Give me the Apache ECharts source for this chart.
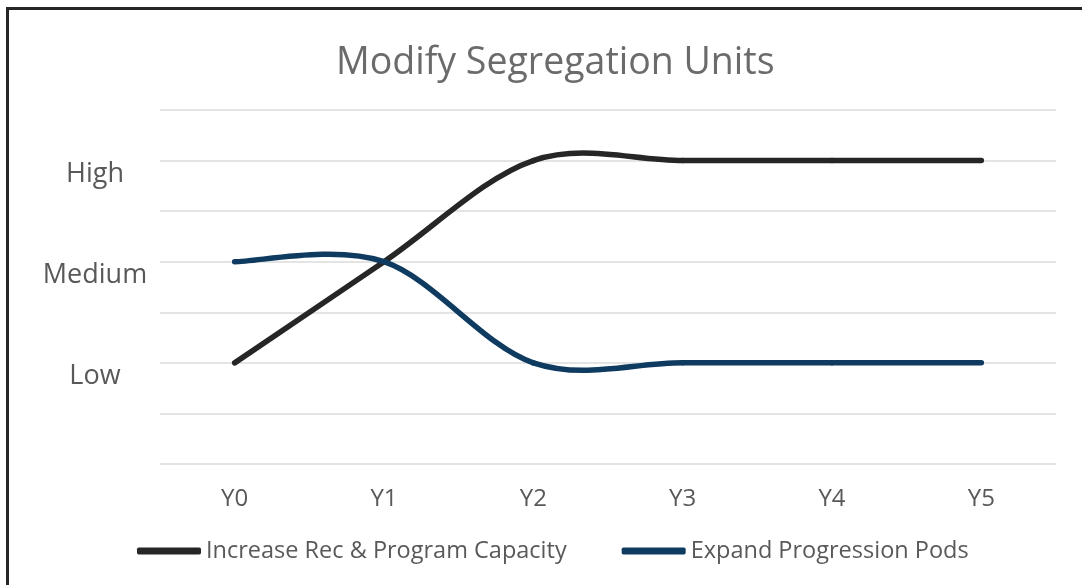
<!DOCTYPE html>
<html>
<head>
<meta charset="utf-8">
<title>Modify Segregation Units</title>
<script src="https://cdn.jsdelivr.net/npm/echarts@6/dist/echarts.min.js"></script>
<style>
    html, body { margin: 0; padding: 0; background: #fff; overflow: hidden; }
    #frame {
        position: absolute; left: 6px; top: 7px; width: 1100px; height: 600px;
        border: 3px solid #262626; box-sizing: border-box;
    }
    #chart { position: absolute; left: 0; top: 0; width: 1082px; height: 585px; }
</style>
</head>
<body>
<div id="frame"></div>
<div id="chart"></div>
<script>
// 横轴年份
var years = ['Y0', 'Y1', 'Y2', 'Y3', 'Y4', 'Y5'];
// 等级刻度 1=Low 2=Medium 3=High
var levelNames = { 1: 'Low', 2: 'Medium', 3: 'High' };
var seriesNames = ['Increase Rec & Program Capacity', 'Expand Progression Pods'];
var recCapacity = [1, 2, 3, 3, 3, 3];
var progressionPods = [2, 2, 1, 1, 1, 1];

var textColor = '#595959';
var font = '"Open Sans", "Noto Sans", sans-serif';

/**
 * 仿 Excel 平滑线：每段用 Catmull-Rom (1/6) 的三次贝塞尔曲线连接
 */
function smoothSeries(name, values, color) {
    return {
        name: name,
        type: 'custom',
        data: values.map(function (v, i) { return [i, v]; }),
        encode: { x: 0, y: 1 },
        itemStyle: { color: color },
        renderItem: function (params, api) {
            var i = params.dataIndex;
            if (i === 0) {
                return null;
            }
            var n = values.length;
            var pt = function (k) {
                k = Math.max(0, Math.min(n - 1, k));
                return api.coord([k, values[k]]);
            };
            var p0 = pt(i - 2), p1 = pt(i - 1), p2 = pt(i), p3 = pt(i + 1);
            return {
                type: 'bezierCurve',
                shape: {
                    x1: p1[0], y1: p1[1],
                    x2: p2[0], y2: p2[1],
                    cpx1: p1[0] + (p2[0] - p0[0]) / 6,
                    cpy1: p1[1] + (p2[1] - p0[1]) / 6,
                    cpx2: p2[0] - (p3[0] - p1[0]) / 6,
                    cpy2: p2[1] - (p3[1] - p1[1]) / 6
                },
                style: { stroke: color, fill: null, lineWidth: 5.5, lineCap: 'round' }
            };
        }
    };
}

var myChart = echarts.init(document.getElementById('chart'));

var option = {
    animation: false,
    title: {
        text: 'Modify Segregation Units',
        left: 331,
        top: 39,
        textStyle: { fontFamily: font, fontSize: 37.5, fontWeight: 'normal', color: '#6b6b6b' }
    },
    legend: {
        bottom: 17,
        left: 132,
        icon: 'roundRect',
        itemWidth: 64,
        itemHeight: 7,
        itemGap: 55,
        textStyle: { fontFamily: font, fontSize: 23.5, color: textColor },
        data: seriesNames
    },
    grid: { left: 160, right: 26, top: 110, bottom: 121 },
    xAxis: {
        type: 'category',
        data: years,
        boundaryGap: true,
        axisLine: { show: false },
        axisTick: { show: false },
        axisLabel: { fontFamily: font, fontSize: 24, color: textColor, margin: 23 }
    },
    yAxis: {
        type: 'value',
        min: 0,
        max: 3.5,
        interval: 0.5,
        axisLine: { show: false },
        axisTick: { show: false },
        splitLine: { lineStyle: { color: '#e4e4e4', width: 2 } },
        axisLabel: {
            fontFamily: font, fontSize: 27, color: textColor,
            align: 'center', verticalAlign: 'top', margin: 65,
            formatter: function (v) { return levelNames[v] || ''; }
        }
    },
    series: [
        smoothSeries(seriesNames[0], recCapacity, '#262626'),
        smoothSeries(seriesNames[1], progressionPods, '#0f3b61')
    ]
};

myChart.setOption(option);
</script>
</body>
</html>
